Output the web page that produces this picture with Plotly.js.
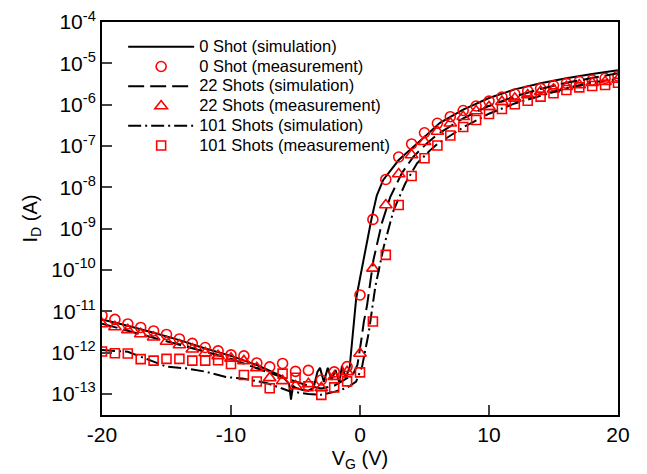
<!DOCTYPE html>
<html>
<head>
<meta charset="utf-8">
<script src="https://cdn.plot.ly/plotly-3.0.1.min.js"></script>
<style>html,body{margin:0;padding:0;background:#fff;}#chart{width:647px;height:474px;}</style>
</head>
<body>
<div id="chart"></div>
<script>
// Gate voltage for measurements (V)
var V_meas = [-20,-19,-18,-17,-16,-15,-14,-13,-12,-11,-10,-9,-8,-7,-6,-5,-4,-3,-2,-1,0,1,2,3,4,5,6,7,8,9,10,11,12,13,14,15,16,17,18,19,20];
// Drain current measurements (A)
var I_meas_0 = [7.93e-12,6.35e-12,4.94e-12,4.06e-12,3.34e-12,2.75e-12,2.14e-12,1.67e-12,1.33e-12,1.10e-12,8.79e-13,8.32e-13,5.62e-13,4.51e-13,5.47e-13,3.51e-13,3.71e-13,2.18e-13,3.41e-13,4.58e-13,2.48e-11,1.67e-9,1.55e-8,5.41e-8,1.12e-7,2.09e-7,3.54e-7,5.11e-7,7.21e-7,9.27e-7,1.22e-6,1.53e-6,1.81e-6,2.14e-6,2.48e-6,2.90e-6,3.28e-6,3.63e-6,3.94e-6,4.34e-6,4.93e-6];
var I_meas_22 = [4.94e-12,4.18e-12,3.54e-12,2.83e-12,2.36e-12,1.85e-12,1.53e-12,1.21e-12,9.82e-13,8.32e-13,7.23e-13,6.30e-13,4.26e-13,2.44e-13,2.07e-13,1.56e-13,1.75e-13,1.40e-13,2.62e-13,3.41e-13,9.55e-13,1.09e-10,3.73e-9,2.10e-8,6.05e-8,1.27e-7,2.24e-7,3.54e-7,5.11e-7,7.02e-7,8.91e-7,1.18e-6,1.42e-6,1.71e-6,2.06e-6,2.35e-6,2.72e-6,2.99e-6,3.40e-6,3.59e-6,4.10e-6];
var I_meas_101 = [1.06e-12,9.66e-13,9.55e-13,6.95e-13,6.40e-13,7.03e-13,7.03e-13,6.40e-13,6.40e-13,6.55e-13,5.32e-13,2.88e-13,1.99e-13,1.37e-13,3.10e-13,2.47e-13,1.54e-13,9.46e-14,1.44e-13,2.01e-13,3.32e-13,5.68e-12,2.31e-10,3.73e-9,1.88e-8,5.04e-8,1.03e-7,1.79e-7,2.88e-7,4.25e-7,5.94e-7,7.85e-7,1.02e-6,1.24e-6,1.56e-6,1.88e-6,2.26e-6,2.62e-6,2.82e-6,2.99e-6,3.40e-6];

// Simulation curves
var V_sim_0 = [-20,-18,-16,-14,-12,-10,-8,-7,-6,-5.5,-5.35,-5.2,-5,-4.5,-4,-3.6,-3.3,-3.1,-2.8,-2.5,-2.2,-1.9,-1.6,-1.4,-1.1,-0.8,-0.6,-0.45,-0.3,0,0.4,0.9,1.3,1.8,3,4,5,6.2,8,10,12,14,16,18,20];
var I_sim_0 = [6.31e-12,4.47e-12,3.02e-12,2.00e-12,1.26e-12,8.32e-13,5.01e-13,3.55e-13,2.63e-13,1.78e-13,7.24e-14,1.58e-13,1.41e-13,1.26e-13,1.20e-13,1.41e-13,3.39e-13,4.27e-13,1.95e-13,4.27e-13,2.19e-13,3.80e-13,1.86e-13,4.79e-13,2.45e-13,4.47e-13,1.78e-12,6.31e-12,2.00e-11,6.31e-11,2.82e-10,1.78e-9,6.31e-9,1.51e-8,4.57e-8,8.91e-8,1.66e-7,3.63e-7,7.59e-7,1.45e-6,2.34e-6,3.31e-6,4.37e-6,5.50e-6,6.76e-6];
var V_sim_22 = [-20,-17,-14,-12,-10,-8,-6,-4,-3,-2,-1,-0.5,-0.2,0.1,0.3,0.55,1.04,1.7,2.35,3.26,4.14,5.2,6,8,10,12,14,16,18,20];
var I_sim_22 = [5.01e-12,2.82e-12,1.58e-12,1.05e-12,7.08e-13,4.17e-13,2.51e-13,1.58e-13,1.35e-13,1.58e-13,2.40e-13,3.16e-13,5.01e-13,2.00e-12,5.62e-12,1.41e-11,1.74e-10,1.38e-9,5.89e-9,2.24e-8,5.50e-8,1.17e-7,1.91e-7,4.68e-7,9.33e-7,1.58e-6,2.40e-6,3.39e-6,4.47e-6,5.75e-6];
var V_sim_101 = [-20,-18,-16,-15,-13.5,-12,-10.4,-9,-7.2,-5.4,-4,-3,-2,-1,-0.3,0.16,0.67,1.19,1.84,2.61,3.52,4.42,5.45,6,8,10,12,14,16,18,20];
var I_sim_101 = [1.15e-12,1.05e-12,6.03e-13,4.57e-13,4.17e-13,3.47e-13,2.57e-13,2.34e-13,1.82e-13,1.15e-13,1.00e-13,9.55e-14,1.12e-13,1.41e-13,2.00e-13,4.57e-13,2.95e-12,3.98e-11,3.63e-10,2.82e-9,1.26e-8,3.80e-8,7.94e-8,1.12e-7,2.82e-7,6.03e-7,1.07e-6,1.66e-6,2.51e-6,3.47e-6,4.17e-6];

var seriesNames = ["0 Shot (simulation)","0 Shot (measurement)","22 Shots (simulation)","22 Shots (measurement)","101 Shots (simulation)","101 Shots (measurement)"];
var yTickVals = [1e-13,1e-12,1e-11,1e-10,1e-9,1e-8,1e-7,1e-6,1e-5,1e-4];
var yTickText = ["10<sup>-13</sup>","10<sup>-12</sup>","10<sup>-11</sup>","10<sup>-10</sup>","10<sup>-9</sup>","10<sup>-8</sup>","10<sup>-7</sup>","10<sup>-6</sup>","10<sup>-5</sup>","10<sup>-4</sup>"];
var xTickVals = [-20,-10,0,10,20];
var xTickText = ["-20","-10","0","10","20"];

var RED = "#ff0000";
var mk = function(sym, size){ return {symbol: sym, size: size, color: RED, line: {color: RED, width: 1.6}}; };
var lbl = function(s){ return '<span style="font-size:16.5px">' + s + '</span>'; };

var traces = [
  {x: V_sim_0, y: I_sim_0, name: lbl(seriesNames[0]), mode: "lines", line: {color: "#000", width: 2}},
  {x: V_meas, y: I_meas_0, name: lbl(seriesNames[1]), mode: "markers", marker: mk("circle-open", 10)},
  {x: V_sim_22, y: I_sim_22, name: lbl(seriesNames[2]), mode: "lines", line: {color: "#000", width: 2, dash: "16px,6px"}},
  {x: V_meas, y: I_meas_22, name: lbl(seriesNames[3]), mode: "markers", marker: mk("triangle-up-open", 11)},
  {x: V_sim_101, y: I_sim_101, name: lbl(seriesNames[4]), mode: "lines", line: {color: "#000", width: 2, dash: "13px,4px,2px,4px"}},
  {x: V_meas, y: I_meas_101, name: lbl(seriesNames[5]), mode: "markers", marker: mk("square-open", 9)}
];

var FONT = "Liberation Sans, Arial, sans-serif";
var layout = {
  width: 647, height: 474,
  margin: {l: 102, r: 29, t: 22, b: 59},
  paper_bgcolor: "#fff", plot_bgcolor: "#fff",
  font: {family: FONT, color: "#000"},
  showlegend: true,
  legend: {x: 0.041, y: 0.975, xanchor: "left", yanchor: "top", bgcolor: "rgba(0,0,0,0)",
           font: {family: FONT, size: 12.9, color: "#000"}, itemwidth: 66, tracegroupgap: 0},
  xaxis: {range: [-20, 20], tickvals: xTickVals, ticktext: xTickText, ticks: "inside", ticklen: 10, tickwidth: 2,
          showline: true, linewidth: 2, linecolor: "#000", mirror: true, showgrid: false, zeroline: false,
          tickfont: {family: FONT, size: 21},
          title: {text: "V<sub>G</sub> (V)", font: {family: FONT, size: 20}, standoff: 6}},
  yaxis: {type: "log", range: [-13.51, -4.0], tickvals: yTickVals, ticktext: yTickText,
          ticks: "inside", ticklen: 10, tickwidth: 2,
          showline: true, linewidth: 2, linecolor: "#000", mirror: true, showgrid: false, zeroline: false,
          tickfont: {family: FONT, size: 21},
          title: {text: "I<sub>D</sub> (A)", font: {family: FONT, size: 20}, standoff: 8}}
};

Plotly.newPlot("chart", traces, layout, {displayModeBar: false, staticPlot: true});
</script>
</body>
</html>
